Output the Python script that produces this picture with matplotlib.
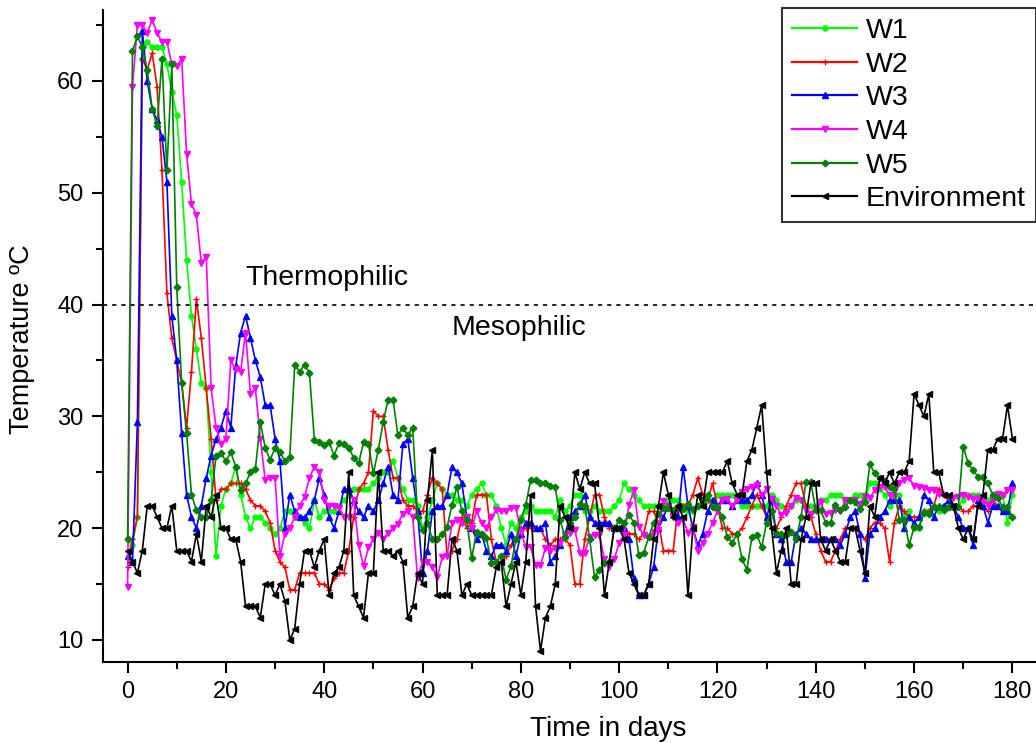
import numpy as np
import matplotlib
matplotlib.use("Agg")
import matplotlib.pyplot as plt
from matplotlib.ticker import MultipleLocator

plt.rcParams['font.family'] = ['Liberation Sans', 'DejaVu Sans']

days = np.arange(0, 181)

env = [18, 17, 16, 18, 22, 22, 21, 20, 20, 22,
       18, 18, 18, 17, 19.5, 17, 22, 21, 23, 20,
       20, 19, 19, 17, 13, 13, 13, 12, 15, 15,
       14, 15, 13.5, 10, 11, 15, 18, 18, 16.5, 18,
       19, 14, 16, 16.5, 18, 25, 14, 13, 12, 16,
       16, 25, 18, 18, 17.5, 18, 17, 12, 13, 16,
       15, 22.5, 27, 14, 14, 14, 19, 18, 14, 15,
       14, 14, 14, 14, 14, 16.5, 17, 13, 15, 17,
       14, 17, 23, 13, 9, 12, 13, 15, 22, 21,
       20, 25, 23.5, 25, 24, 24, 20, 14, 17, 20,
       20, 19, 16, 15, 14, 14, 15, 19, 22, 25,
       23, 21, 22, 21, 14, 20, 23, 22, 25, 25,
       25, 25, 26, 24, 23, 23, 26, 27, 29, 31,
       25, 20, 16, 18, 20, 15, 15, 19, 21, 24,
       24, 19, 18, 19, 18, 17, 17, 20, 20, 18,
       16, 22, 21, 24.5, 24, 25, 24, 25, 25, 26,
       32, 31, 30, 32, 25, 25, 23, 23, 22, 20,
       19, 20, 19, 22, 23, 27, 27, 28, 28, 31, 28]

w1 = [19, 18.5, 21, 62, 63.5, 63, 63, 63, 61.5, 59,
      57, 51, 44, 39, 36, 33, 32.5, 25, 17.5, 22,
      23.5, 24, 25.5, 23, 21, 20, 21, 21, 20.5, 20,
      19.5, 20, 21.5, 21.5, 21, 21, 20.5, 20, 22.5, 21,
      21.5, 21.5, 21.5, 22, 22.5, 23, 23.5, 23.5, 23.5, 23.5,
      24, 24.5, 25, 25, 26, 24.5, 23.5, 22.5, 22.5, 22,
      20, 21, 22.5, 24, 23.5, 23, 23, 22.5, 22.5, 22,
      23, 23.5, 24, 23, 23, 22, 20, 18.5, 20.5, 20,
      21, 21.5, 22, 21.5, 21.5, 21.5, 21.5, 21, 22.5, 21.5,
      22, 23, 23, 21.5, 21.5, 22, 21.5, 21.5, 21.5, 22,
      22.5, 24, 23.5, 23, 22.5, 22, 22, 22, 22, 22,
      22.5, 22.5, 22.5, 22, 21.5, 21.5, 22, 22, 22.5, 22.5,
      23, 23, 23, 23, 22.5, 22, 22, 22, 22, 22,
      22, 23, 22.5, 22, 21.5, 22, 22.5, 22.5, 22, 22,
      22, 22.5, 22.5, 23, 23, 23, 22.5, 22.5, 23, 23,
      22.5, 24, 24, 23.5, 23, 22, 23, 23, 21, 21.5,
      20, 20, 21.5, 21.5, 22, 21.5, 22, 22, 22, 22,
      22.5, 23, 23, 23, 22.5, 22.5, 23, 23, 23, 20.5, 23]

w2 = [16.5, 19, 21, 62, 61, 62.5, 59.5, 52, 41, 37,
      35, 33, 29, 34, 40.5, 37, 32.5, 28, 22.5, 23.5,
      23.5, 24, 24, 24, 23.5, 22.5, 22, 22, 21.5, 20.5,
      18, 17, 16.5, 14.5, 14.5, 16, 16, 16, 16, 15,
      15, 14.5, 15.5, 16, 16, 18, 21, 23.5, 24, 25,
      30.5, 30, 30, 27, 24.5, 24.5, 22.5, 22, 22, 21.5,
      21.5, 23, 24.5, 24, 23.5, 17.5, 18, 19, 21, 20,
      20.5, 23, 23, 23, 19, 17, 17, 17.5, 18.5, 19,
      20, 20, 20, 20, 20, 19, 18.5, 19, 19, 19,
      18.5, 15, 15, 19, 21, 23, 23, 21, 20, 20,
      20, 20, 19.5, 19.5, 19, 19.5, 21.5, 21.5, 20.5, 18,
      18, 18, 22, 22, 22, 23, 24.5, 23, 22.5, 24,
      22, 20, 20, 19.5, 19.5, 20, 21, 22, 23, 22,
      21, 20, 20, 21, 22, 23, 24, 24, 22, 21,
      19.5, 18, 17, 17, 18, 19, 20, 20, 20, 19.5,
      19, 20, 20.5, 20.5, 20, 17, 20.5, 22, 21.5, 21,
      21, 21, 21.5, 21.5, 22, 23.5, 23, 22.5, 22, 22,
      21.5, 21.5, 22, 22, 22, 21.5, 22.5, 22, 21.5, 21.5, 21]

w3 = [17.5, 17, 29.5, 64.5, 60, 57.5, 56.5, 55, 51, 39,
      35, 28.5, 23, 21, 20, 22, 24.5, 26.5, 28, 29,
      30.5, 29, 34.5, 37.5, 39, 37, 35, 33.5, 31, 31,
      28, 26, 20, 23, 21.5, 21, 21, 21.5, 22.5, 24.5,
      23, 21, 20, 21.5, 23.5, 23.5, 22.5, 21.5, 21, 22,
      21.5, 22.5, 24, 25.5, 23, 22.5, 27.5, 28, 24.5, 21.5,
      16, 18, 21.5, 22, 22, 23, 25.5, 25, 24, 21,
      20, 19, 19.5, 18, 17.5, 18.5, 18.5, 18, 19.5, 17.5,
      19.5, 20.5, 20.5, 20, 20, 20.5, 17, 17.5, 18.5, 19.5,
      21, 21.5, 22, 23, 21, 20.5, 20.5, 20.5, 20.5, 20,
      20, 20, 19, 15.5, 14, 14, 15, 16.5, 20, 21,
      22, 21.5, 21, 25.5, 22, 20, 18.5, 19.5, 21.5, 22.5,
      22, 22.5, 22.5, 22, 22.5, 22.5, 22.5, 23, 24, 23,
      21, 22.5, 19.5, 19, 17, 17, 19.5, 20, 19.5, 19,
      19, 19, 19, 19, 19, 18.5, 19.5, 21, 21.5, 19.5,
      15.5, 19.5, 20, 21, 21.5, 22.5, 22.5, 22.5, 20, 21,
      20.5, 21, 23, 22.5, 21, 22, 22, 22.5, 22, 21,
      20, 20, 18.5, 22.5, 22, 20.5, 22, 22, 21.5, 21.5, 24]

w4 = [14.7, 59.5, 65, 65, 64.3, 65.5, 64.3, 63.5, 63.5, 61.5,
      61.3, 62, 53.5, 49, 48, 43.7, 44.3, 32.5, 29, 27.5,
      28, 35, 34.2, 34, 37.5, 32, 32.5, 28, 24.3, 24.5,
      24.5, 17.5, 19.5, 20, 21, 22, 22.8, 24.5, 25.5, 25,
      22.5, 22, 22, 21.8, 21, 21, 22.5, 18.5, 16.6, 18.3,
      19, 19.6, 19, 19.6, 20, 20.4, 21.3, 21.5, 21, 15.5,
      17, 17, 16.5, 15.6, 17.4, 17.5, 20.5, 20.7, 20.5, 21,
      20, 21.5, 20.5, 20, 21, 21.6, 21.5, 21.5, 21.8, 21.8,
      19.7, 18.3, 18.3, 16.7, 16.7, 18.2, 18, 18.2, 18.7, 19.4,
      19.6, 19.8, 17.8, 17.8, 19.2, 19.4, 19.4, 17.2, 16.5, 17.2,
      18.7, 19.4, 22.1, 23.4, 20.1, 19.4, 19.2, 19.7, 19.8, 22.4,
      22, 21, 20.5, 20.8, 19.6, 20.1, 18, 18.7, 19.5, 20.5,
      21.5, 22.5, 22.6, 22, 22.5, 23.2, 23.5, 23.7, 23.9, 23,
      23.5, 22.6, 22, 21.2, 21.4, 22, 22.7, 22.5, 21.6, 21.3,
      21.8, 22.3, 21.3, 21.4, 21.6, 21.5, 22.5, 22.4, 22.5, 22.2,
      22.9, 22.7, 23.4, 23.7, 23.7, 23, 22.9, 24, 24.3, 24.5,
      23.8, 23.7, 23.6, 23.4, 23.4, 23.1, 23, 22.8, 22.7, 22.8,
      23, 22.8, 22.6, 22.7, 22.4, 22.1, 22.6, 23.1, 23, 23.4, 23.4]

w5 = [19, 62.7, 64, 63, 61, 57.5, 56, 62, 52, 61.5,
      41.6, 33, 28.5, 23, 21.6, 21, 21, 22.5, 26.5, 26.7,
      26, 26.8, 25.5, 23.4, 24, 25, 25.3, 29.5, 27.2, 26.1,
      27.2, 26.8, 26, 26.4, 34.6, 34, 34.6, 33.9, 27.9, 27.7,
      27.4, 27.7, 26.5, 27.6, 27.5, 27.2, 26.3, 25.8, 27.7, 27.5,
      24.9, 27, 29.5, 31.5, 31.5, 28.3, 29, 28.3, 29, 21,
      19.8, 20.5, 19, 19, 19.5, 20.1, 22.1, 23.7, 21.5, 20.7,
      17.3, 19.7, 19.5, 19.1, 16.9, 17, 17.5, 15.4, 16.6, 19,
      20.7, 22.1, 24.3, 24.3, 24, 24, 23.8, 23.7, 20.7, 19.2,
      20.5, 21, 22.2, 22, 19, 15.6, 16.3, 16.9, 17, 20,
      20.7, 20.5, 21.2, 20.5, 17.6, 17.8, 19.2, 20.5, 21.3, 21.8,
      21.8, 21.6, 22, 21.7, 22.2, 21.7, 22, 22.5, 23, 21.9,
      21.9, 21, 19.2, 18.7, 19.5, 17.2, 16.3, 19.2, 19.4, 18.3,
      20.5, 21.5, 19.6, 19.5, 19.4, 19.7, 19, 21, 24.1, 24.1,
      21.6, 21.6, 20.5, 20.5, 22.1, 21.6, 21.9, 22.5, 22.3, 21.7,
      22.3, 25.7, 24.9, 24.5, 24.2, 23.7, 23.5, 20.7, 20.7, 18.5,
      20.1, 20.1, 21.4, 21.3, 21.9, 21.9, 21.6, 21.9, 21.9, 21.9,
      27.3, 25.8, 25.2, 24.6, 24.6, 24, 23, 22.7, 21.9, 21.9, 21]

series = [
    ("W1", w1, "#00ff00", "o", 3.6),
    ("W2", w2, "#ff0000", "+", 4.0),
    ("W3", w3, "#0000ff", "^", 4.0),
    ("W4", w4, "#ff00ff", "v", 4.3),
    ("W5", w5, "#008000", "D", 3.4),
    ("Environment", env, "#000000", "<", 3.8),
]

fig = plt.figure(figsize=(10.36, 7.43), dpi=100)
ax = fig.add_axes([103/1036, 81/743, 933/1036, 652/743])

for name, vals, col, mk, ms in series:
    ax.plot(days, vals, color=col, lw=1.2, marker=mk, ms=ms,
            mec=col, mfc=col, label=name)

ax.axhline(40, color='black', lw=1.2, ls=(0, (2.5, 3)))
ax.text(24, 42.4, "Thermophilic", fontsize=20.5, va='center', ha='left')
ax.text(66, 37.9, "Mesophilic", fontsize=20.5, va='center', ha='left')

ax.set_xlim(-5, 184.8)
ax.set_ylim(8.03, 66.35)
ax.xaxis.set_major_locator(MultipleLocator(20))
ax.xaxis.set_minor_locator(MultipleLocator(10))
ax.yaxis.set_major_locator(MultipleLocator(10))
ax.yaxis.set_minor_locator(MultipleLocator(5))
ax.tick_params(which='major', direction='out', length=8, width=1.5,
               labelsize=17, pad=6)
ax.tick_params(which='minor', direction='out', length=5, width=1.5)
ax.spines['top'].set_visible(False)
ax.spines['right'].set_visible(False)
ax.spines['left'].set_linewidth(1.5)
ax.spines['bottom'].set_linewidth(1.5)

fig.text(608/1036, 1 - 729/743, "Time in days", fontsize=20,
         ha='center', va='center')
fig.text(22/1036, 1 - 339/743, "Temperature ºC", fontsize=19.5,
         ha='center', va='center', rotation=90)

leg = ax.legend(loc='upper left', bbox_to_anchor=(782/1036, 1 - 8/743),
                bbox_transform=fig.transFigure, fontsize=20.5, frameon=True,
                fancybox=False, borderaxespad=0, numpoints=1,
                handlelength=2.3, handletextpad=0.3, labelspacing=0.27,
                borderpad=0.35)
leg.get_frame().set_edgecolor('black')
leg.get_frame().set_linewidth(1.5)
for h in leg.get_lines():
    h.set_linewidth(1.6)

fig.savefig("out.png", dpi=100)
